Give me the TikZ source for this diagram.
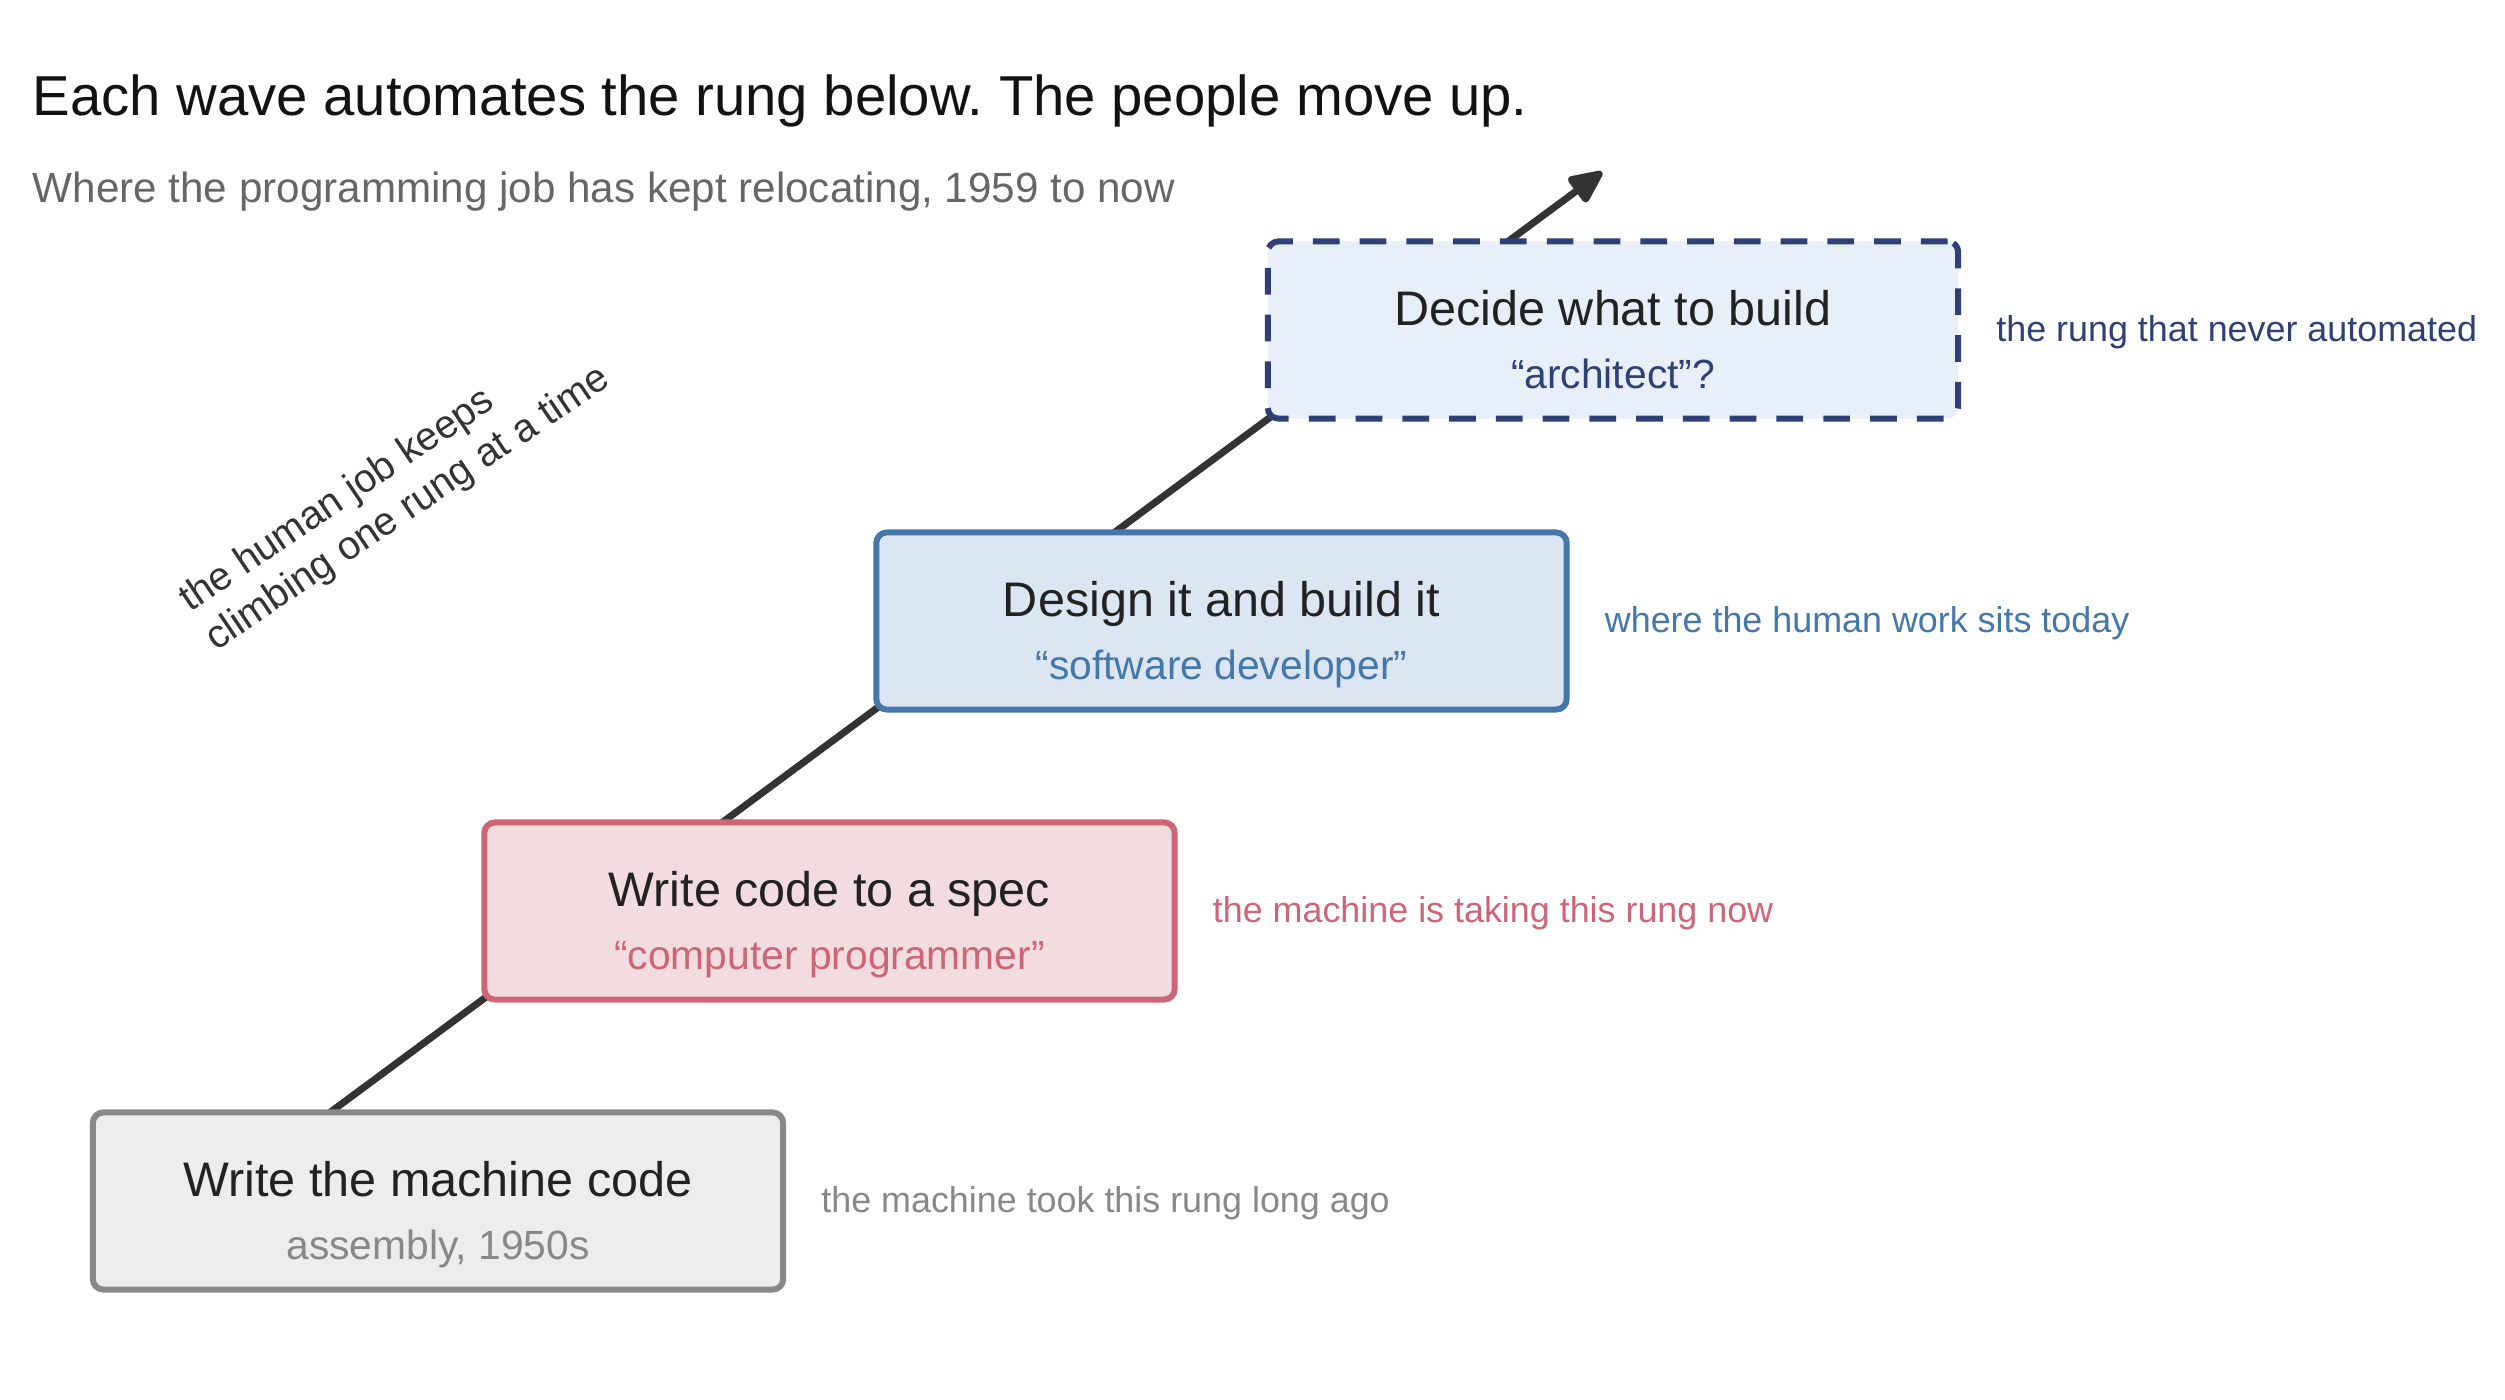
\documentclass[tikz,border=0pt]{standalone}
\usepackage{fontspec}
\setmainfont{Liberation Sans}
\usetikzlibrary{arrows.meta,backgrounds}
\definecolor{inkdark}{HTML}{222222}
\definecolor{stairgray}{HTML}{333333}
\definecolor{oldgray}{HTML}{888888}
\definecolor{oldfill}{HTML}{EDEDED}
\definecolor{nowrose}{HTML}{CC6677}
\definecolor{nowfill}{HTML}{F2DCE0}
\definecolor{todayblue}{HTML}{4477AA}
\definecolor{todayfill}{HTML}{DCE6F2}
\definecolor{nextnavy}{HTML}{2E4076}
\definecolor{nextfill}{HTML}{E8EFF8}
\frenchspacing

\begin{document}
\begin{tikzpicture}[x=0.01cm, y=-0.01cm,
  rung/.style={draw, line width=1.7pt, rounded corners=3pt, minimum width=6.9cm, minimum height=1.77cm, outer sep=0pt, inner sep=0pt},
  rmain/.style={anchor=base, inner sep=0pt, text=inkdark, font=\fontsize{13.8}{16}\selectfont},
  rsub/.style={anchor=base, inner sep=0pt, font=\fontsize{11.6}{14}\selectfont},
  note/.style={anchor=base west, inner sep=0pt, font=\fontsize{10.2}{12}\selectfont},
  stair/.style={-{Triangle[length=10.8pt, width=9.4pt, round]}, line width=2pt, draw=stairgray}]
\useasboundingbox (0,0) rectangle (2505,1399);
\node[anchor=base west, inner sep=0pt, text=black!93, font=\fontsize{16}{19}\selectfont] (title) at (32,115) {Each wave automates the rung below. The people move up.};
\node[anchor=base west, inner sep=0pt, text=black!60, font=\fontsize{12}{14}\selectfont] (subtitle) at (32,202) {Where the programming job has kept relocating, 1959 to now};
% the four rungs
\node[rung, draw=oldgray, fill=oldfill] (r1) at (438,1201) {};
\node[rung, draw=nowrose, fill=nowfill] (r2) at (829.5,911) {};
\node[rung, draw=todayblue, fill=todayfill] (r3) at (1221.5,621) {};
\node[rung, draw=nextnavy, fill=nextfill, dash pattern=on 7.6pt off 5.7pt] (r4) at (1613,330) {};
\node[rmain] (r1t) at ([yshift=0.05cm]r1.center) {Write the machine code};
\node[rsub, text=oldgray] (r1s) at ([yshift=-0.58cm]r1.center) {assembly, 1950s};
\node[rmain] (r2t) at ([yshift=0.05cm]r2.center) {Write code to a spec};
\node[rsub, text=nowrose] (r2s) at ([yshift=-0.58cm]r2.center) {“computer programmer”};
\node[rmain] (r3t) at ([yshift=0.05cm]r3.center) {Design it and build it};
\node[rsub, text=todayblue] (r3s) at ([yshift=-0.58cm]r3.center) {“software developer”};
\node[rmain] (r4t) at ([yshift=0.05cm]r4.center) {Decide what to build};
\node[rsub, text=nextnavy] (r4s) at ([yshift=-0.58cm]r4.center) {“architect”?};
% side notes
\node[note, text=oldgray] (n1) at ([xshift=0.375cm, yshift=-0.115cm]r1.east) {the machine took this rung long ago};
\node[note, text=nowrose] (n2) at ([xshift=0.375cm, yshift=-0.115cm]r2.east) {the machine is taking this rung now};
\node[note, text=todayblue] (n3) at ([xshift=0.375cm, yshift=-0.115cm]r3.east) {where the human work sits today};
\node[note, text=nextnavy] (n4) at ([xshift=0.375cm, yshift=-0.115cm]r4.east) {the rung that never automated};
\node[rotate=34, anchor=west, align=left, inner sep=0pt, text=stairgray, font=\fontsize{11.3}{13.2}\selectfont] (climb) at (197,624) {the human job keeps\\climbing one rung at a time};
% the stair line runs behind the boxes
\coordinate (foot) at ([xshift=-1.08cm]r1.north);
\coordinate (tip) at (1602,172);
\begin{scope}[on background layer]
\draw[stair] (foot) -- (tip);
\end{scope}
\end{tikzpicture}
\end{document}
